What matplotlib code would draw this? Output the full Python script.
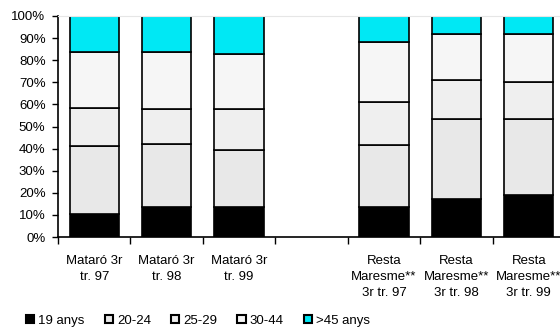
import numpy as np
import matplotlib.pyplot as plt

plt.rcParams['font.family'] = ['Liberation Sans Narrow', 'Liberation Sans', 'DejaVu Sans']

categories = ['Mataró 3r\ntr. 97', 'Mataró 3r\ntr. 98', 'Mataró 3r\ntr. 99', '',
              'Resta\nMaresme**\n3r tr. 97', 'Resta\nMaresme**\n3r tr. 98',
              'Resta\nMaresme**\n3r tr. 99']
series_names = ['19 anys', '20-24', '25-29', '30-44', '>45 anys']
age_19 = [10.4, 13.4, 13.4, 0, 13.4, 17.2, 18.9]
age_20_24 = [30.8, 28.5, 26.1, 0, 28.2, 36.3, 34.6]
age_25_29 = [17.0, 16.2, 18.6, 0, 19.5, 17.5, 16.8]
age_30_44 = [25.4, 25.5, 24.7, 0, 27.1, 21.0, 21.7]
age_45 = [16.4, 16.4, 17.2, 0, 11.8, 8.0, 8.0]

colors = ['#000000', '#e8e8e8', '#efefef', '#f6f6f6', '#00e8f4']

fig = plt.figure(figsize=(5.6, 3.27), dpi=100)
# axis runs past the right edge of the picture, like the reference
ax = fig.add_axes([58/560, 1 - 237/327, (565 - 58)/560, (237 - 16)/327])

x = np.arange(len(categories))
bottom = np.zeros(len(categories))
for name, vals, c in zip(series_names, [age_19, age_20_24, age_25_29, age_30_44, age_45], colors):
    vals = np.array(vals)
    mask = vals > 0
    ax.bar(x[mask], vals[mask], 0.68, bottom=bottom[mask], color=c,
           edgecolor='black', linewidth=1.2, label=name)
    bottom += vals

ax.set_xlim(-0.5, len(categories) - 0.5)
ax.set_ylim(0, 100)
ax.set_yticks(np.arange(0, 101, 10))
ax.set_yticklabels([f'{v}%' for v in range(0, 101, 10)], fontsize=9.5)
ax.set_xticks(np.arange(-0.5, len(categories), 1.0))
ax.set_xticklabels([])
ax.set_xticks(x, minor=True)
ax.set_xticklabels(categories, minor=True, fontsize=9.5, linespacing=1.45)
ax.tick_params(axis='x', which='minor', length=0, pad=13)
ax.tick_params(axis='x', which='major', length=5, direction='out', width=1)
ax.tick_params(axis='y', length=4, width=1, pad=5)

ax.spines['right'].set_visible(False)
ax.spines['top'].set_color('#e6e6e6')
ax.spines['left'].set_linewidth(1.2)
ax.spines['bottom'].set_linewidth(1.2)

leg = fig.legend(loc='lower left', bbox_to_anchor=(0.025, -0.035), ncol=5, frameon=False,
                 fontsize=9.5, handlelength=0.65, handleheight=0.65, handletextpad=0.3,
                 columnspacing=1.5)
for h in leg.legend_handles:
    h.set_linewidth(1.5)

fig.savefig('out.png', dpi=100)
